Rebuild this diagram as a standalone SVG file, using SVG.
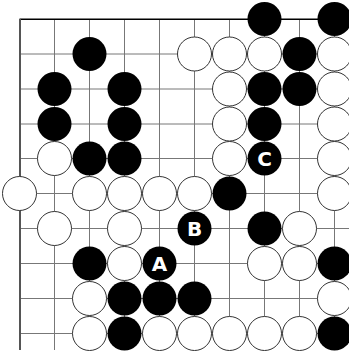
<svg xmlns="http://www.w3.org/2000/svg" width="349" height="353" viewBox="0 0 349 353">
<style>
.g{stroke:#777;stroke-width:1;fill:none}
.w{fill:#fff;stroke:#333;stroke-width:1}
.b{fill:#000}
.t{fill:#fff;font-family:"DejaVu Sans",sans-serif;font-weight:bold;font-size:20px;text-anchor:middle}
</style>
<defs>
<circle id="ws" r="17" class="w"/>
<circle id="bs" r="17" class="b"/>
</defs>
<rect width="349" height="353" fill="#fff"/>
<g id="grid">
<path class="g" d="M54.5 19V350M89.5 19V350M124.5 19V350M159.5 19V350M194.5 19V350M229.5 19V350M264.5 19V350M299.5 19V350M334.5 19V350"/>
<path class="g" d="M20 54H349M20 89H349M20 124H349M20 158.5H349M20 193.5H349M20 228.5H349M20 263.5H349M20 298.5H349M20 333.5H349"/>
<path d="M19.5 19.3H349" stroke="#000" stroke-width="1.5"/>
<path d="M20 19V350" stroke="#555" stroke-width="2"/>
</g>
<g id="stones">
<use href="#bs" x="264.5" y="19"/><use href="#bs" x="334.5" y="19"/>
<use href="#bs" x="89.5" y="54"/><use href="#ws" x="194.5" y="54"/><use href="#ws" x="229.5" y="54"/><use href="#ws" x="264.5" y="54"/><use href="#bs" x="299.5" y="54"/><use href="#ws" x="334.5" y="54"/>
<use href="#bs" x="54.5" y="89"/><use href="#bs" x="124.5" y="89"/><use href="#ws" x="229.5" y="89"/><use href="#bs" x="264.5" y="89"/><use href="#bs" x="299.5" y="89"/><use href="#ws" x="334.5" y="89"/>
<use href="#bs" x="54.5" y="124"/><use href="#bs" x="124.5" y="124"/><use href="#ws" x="229.5" y="124"/><use href="#bs" x="264.5" y="124"/><use href="#ws" x="334.5" y="124"/>
<use href="#ws" x="54.5" y="158.5"/><use href="#bs" x="89.5" y="158.5"/><use href="#bs" x="124.5" y="158.5"/><use href="#ws" x="229.5" y="158.5"/><use href="#ws" x="334.5" y="158.5"/>
<use href="#ws" x="19.5" y="193.5"/><use href="#ws" x="89.5" y="193.5"/><use href="#ws" x="124.5" y="193.5"/><use href="#ws" x="159.5" y="193.5"/><use href="#ws" x="194.5" y="193.5"/><use href="#bs" x="229.5" y="193.5"/><use href="#ws" x="334.5" y="193.5"/>
<use href="#ws" x="54.5" y="228.5"/><use href="#ws" x="124.5" y="228.5"/><use href="#bs" x="264.5" y="228.5"/><use href="#ws" x="299.5" y="228.5"/>
<use href="#bs" x="89.5" y="263.5"/><use href="#ws" x="124.5" y="263.5"/><use href="#ws" x="264.5" y="263.5"/><use href="#ws" x="299.5" y="263.5"/><use href="#bs" x="334.5" y="263.5"/>
<use href="#ws" x="89.5" y="298.5"/><use href="#bs" x="124.5" y="298.5"/><use href="#bs" x="159.5" y="298.5"/><use href="#bs" x="194.5" y="298.5"/><use href="#ws" x="334.5" y="298.5"/>
<use href="#ws" x="89.5" y="333.5"/><use href="#bs" x="124.5" y="333.5"/><use href="#ws" x="159.5" y="333.5"/><use href="#ws" x="194.5" y="333.5"/><use href="#ws" x="229.5" y="333.5"/><use href="#ws" x="264.5" y="333.5"/><use href="#ws" x="299.5" y="333.5"/><use href="#bs" x="334.5" y="333.5"/>
</g>
<g id="stone-C"><use href="#bs" x="264.5" y="158.5"/><text class="t" x="264.5" y="166">C</text></g>
<g id="stone-B"><use href="#bs" x="194.5" y="228.5"/><text class="t" x="194.5" y="236">B</text></g>
<g id="stone-A"><use href="#bs" x="159.5" y="263.5"/><text class="t" x="159.5" y="271">A</text></g>
</svg>
